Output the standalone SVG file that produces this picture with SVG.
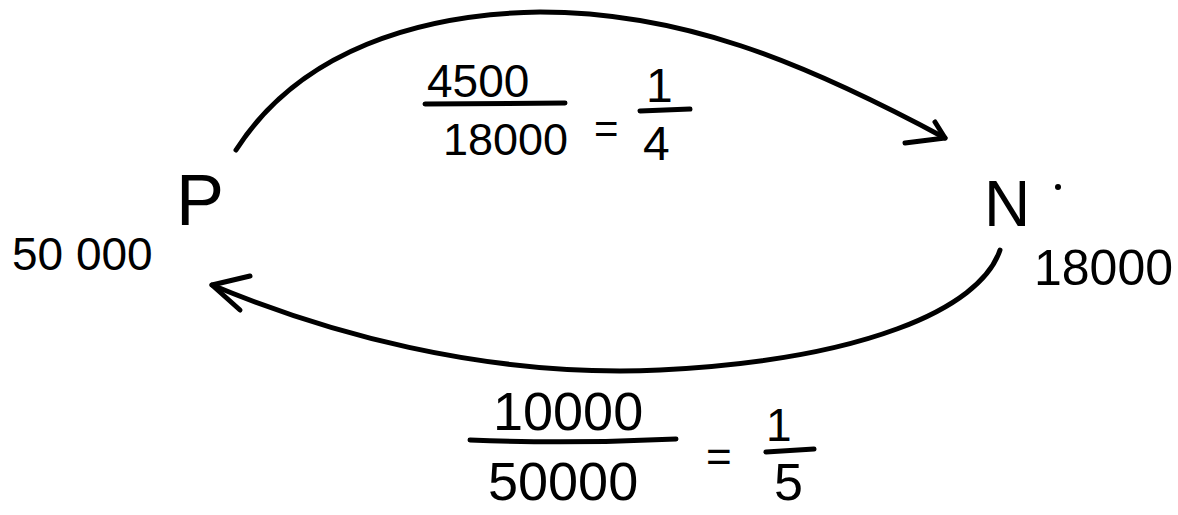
<svg xmlns="http://www.w3.org/2000/svg" width="1178" height="515" viewBox="0 0 1178 515">
<style>
.s{fill:none;stroke:#000;stroke-width:5;stroke-linecap:round;stroke-linejoin:round}
.t{font-family:"Liberation Sans",Arial,sans-serif;fill:#000}
</style>
<rect width="1178" height="515" fill="#fff"/>
<g id="connectors">
<path class="s" d="M236,150 C300,50 420,14 540,12 C680,12 800,60 945,138"/>
<path class="s" d="M905,143 L945,138 L935,122"/>
<path class="s" d="M1000,250 C980,310 860,360 660,370 C480,378 320,330 212,285"/>
<path class="s" d="M250,276 L212,285 L240,310"/>
</g>
<g id="nodeP">
<text class="t" x="176" y="225" font-size="72">P</text>
<text class="t" x="12" y="270" font-size="46">50 000</text>
</g>
<g id="nodeN">
<text class="t" x="984" y="226" font-size="64">N</text>
<circle cx="1058" cy="187" r="3" fill="#000"/>
<text class="t" x="1034" y="285" font-size="50">18000</text>
</g>
<g id="labelTop">
<text class="t" x="427" y="97" font-size="46">4500</text>
<path class="s" d="M425,104 L565,103"/>
<text class="t" x="443" y="155" font-size="45">18000</text>
<text class="t" x="594" y="143" font-size="42">=</text>
<text class="t" x="646" y="102" font-size="48">1</text>
<path class="s" d="M640,111 L690,109"/>
<text class="t" x="643" y="160" font-size="48">4</text>
</g>
<g id="labelBottom">
<text class="t" x="493" y="430" font-size="54">10000</text>
<path class="s" d="M470,440 Q570,444 676,439"/>
<text class="t" x="488" y="500" font-size="54">50000</text>
<text class="t" x="706" y="472" font-size="44">=</text>
<text class="t" x="766" y="441" font-size="46">1</text>
<path class="s" d="M766,452 L814,449"/>
<text class="t" x="774" y="500" font-size="52">5</text>
</g>
</svg>
